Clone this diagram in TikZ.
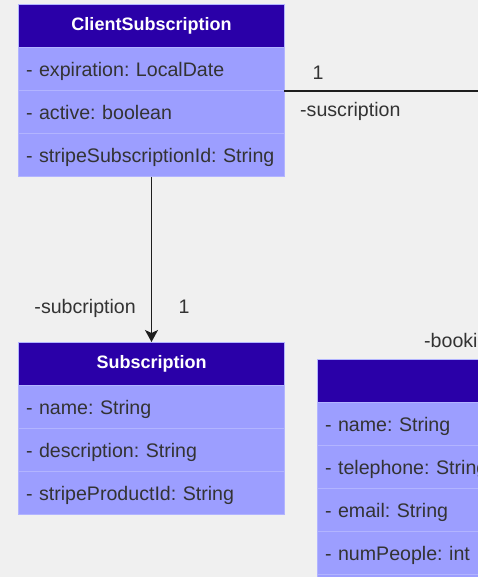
\documentclass[tikz,border=0pt]{standalone}
\usepackage{fontspec}
\setmainfont{Liberation Sans}
\usetikzlibrary{arrows.meta}
\definecolor{bgc}{HTML}{F0F0F0}
\definecolor{hdrc}{HTML}{2A00A8}
\definecolor{rowc}{HTML}{9C9EFF}
\definecolor{sepc}{HTML}{B2B4FF}
\definecolor{txtc}{HTML}{333333}
\definecolor{linec}{HTML}{1E1E1E}
\tikzset{
  hdr/.style={rectangle, fill=hdrc, draw=sepc, line width=1pt, minimum width=266pt, minimum height=43pt, inner sep=0pt, text=white, font=\fontsize{18}{20}\selectfont\bfseries, anchor=north west},
  row/.style={rectangle, fill=rowc, draw=sepc, line width=1pt, text width=251pt, inner xsep=7.5pt, inner ysep=0pt, align=left, text height=17pt, text depth=2pt, minimum height=43pt, text=txtc, font=\fontsize{19.6}{22}\selectfont\frenchspacing, anchor=north west},
  lbl/.style={text=txtc, font=\fontsize{19.6}{22}\selectfont, inner sep=0pt},
  conn/.style={draw=linec, line width=1.5pt},
}
\begin{document}
\begin{tikzpicture}[x=1pt,y=-1pt]
\useasboundingbox (0,0) rectangle (478,577);
\clip (0,0) rectangle (478,577);
\fill[bgc] (0,0) rectangle (478,577);
% ClientSubscription
\node[hdr] (csh) at (18,4) {ClientSubscription};
\node[row] (cs1) at (18,47) {- expiration: LocalDate};
\node[row] (cs2) at (18,90) {- active: boolean};
\node[row] (cs3) at (18,133) {- stripeSubscriptionId: String};
% Subscription
\node[hdr] (sh) at (18,342) {Subscription};
\node[row] (s1) at (18,385) {- name: String};
\node[row] (s2) at (18,428) {- description: String};
\node[row] (s3) at (18,471) {- stripeProductId: String};
% Booking (partially visible)
\node[hdr] (bh) at (317,359) {};
\node[row] (b1) at (317,402) {- name: String};
\node[row] (b2) at (317,445) {- telephone: String};
\node[row] (b3) at (317,488) {- email: String};
\node[row] (b4) at (317,531) {- numPeople: int};
\node[row] (b5) at (317,574) {};
% connectors
\coordinate (rstart) at (284,91);
\coordinate (rend) at (500,91);
\draw[conn] (rstart) -- (rend);
\node[lbl, anchor=base] (l1) at (318,79.5) {1};
\node[lbl, anchor=base west] (l2) at (300,116.5) {-suscription};
\draw[conn, -{Stealth[width=13pt,length=12pt,inset=3pt]}] (cs3.south) -- (sh.north);
\node[lbl, anchor=base east] (l3) at (136,313.5) {-subcription};
\node[lbl, anchor=base] (l4) at (184,313.5) {1};
\node[lbl, anchor=base west] (l5) at (424,347) {-booking};
\end{tikzpicture}
\end{document}
